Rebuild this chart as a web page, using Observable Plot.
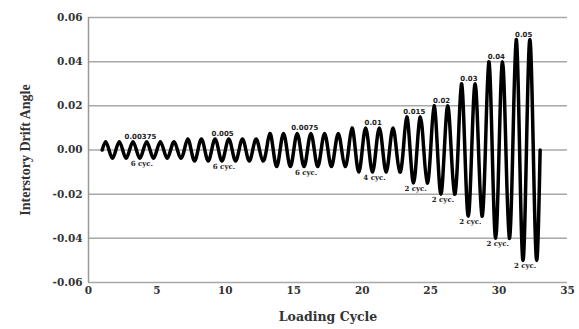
<!DOCTYPE html>
<html><head><meta charset="utf-8">
<script src="https://cdn.jsdelivr.net/npm/d3@7"></script>
<script src="https://cdn.jsdelivr.net/npm/@observablehq/plot@0.6"></script>
<style>
body{margin:0;background:#fff;}
#chart g[aria-label="y-axis label"] text{font-family:"Liberation Serif";font-size:14px;font-weight:bold;}
#chart g[aria-label="x-axis label"] text{font-size:12.5px;}
</style></head><body><div id="chart"></div>
<script>
// Loading protocol
const levels = [0.00375, 0.005, 0.0075, 0.01, 0.015, 0.02, 0.03, 0.04, 0.05];
const cycles = [6, 6, 6, 4, 2, 2, 2, 2, 2];
const levelLabels = ["0.00375", "0.005", "0.0075", "0.01", "0.015", "0.02", "0.03", "0.04", "0.05"];
const cycleLabels = ["6 cyc.", "6 cyc.", "6 cyc.", "4 cyc.", "2 cyc.", "2 cyc.", "2 cyc.", "2 cyc.", "2 cyc."];
const firstCycle = 1;
const yTicks = [-0.06, -0.04, -0.02, 0, 0.02, 0.04, 0.06];
const xTicks = [0, 5, 10, 15, 20, 25, 30, 35];

// Peak / zero / trough vertices of each cycle
const points = [];
const groups = [];
let c = firstCycle;
levels.forEach((a, i) => {
  const start = c;
  for (let k = 0; k < cycles[i]; k++) {
    points.push({x: c, y: 0}, {x: c + 0.25, y: a}, {x: c + 0.5, y: 0}, {x: c + 0.75, y: -a});
    c += 1;
  }
  groups.push({xTop: start + cycles[i] / 2 - 0.2, xBot: start + cycles[i] / 2 - 0.1, amp: a, neg: -a, top: levelLabels[i], bot: cycleLabels[i]});
});
points.push({x: c, y: 0});

const chart = Plot.plot({
  width: 579, height: 329,
  marginLeft: 88, marginRight: 12, marginTop: 17, marginBottom: 47,
  style: {fontFamily: "DejaVu Serif", fontSize: "10.5px", fontWeight: "bold", color: "#333", background: "white"},
  x: {domain: [0, 35]},
  y: {domain: [-0.06, 0.06]},
  marks: [
    Plot.gridY(yTicks, {stroke: "#a8a8a8", strokeOpacity: 1, strokeWidth: 1.5}),
    Plot.ruleX([0], {y1: -0.06, y2: 0.06, stroke: "#999", strokeWidth: 1.5}),
    Plot.axisY(yTicks, {tickSize: 0, tickPadding: 6, tickFormat: d => d.toFixed(2), label: "Interstory Drift Angle", labelAnchor: "center", labelArrow: "none", labelOffset: 68}),
    Plot.axisX(xTicks, {tickSize: 0, tickPadding: 4, label: "Loading Cycle", labelAnchor: "center", labelArrow: "none", labelOffset: 38}),
    Plot.line(points, {x: "x", y: "y", curve: "natural", stroke: "#000", strokeWidth: 3.5}),
    Plot.text(groups, {x: "xTop", y: "amp", text: "top", lineAnchor: "bottom", dy: -3, fontFamily: "DejaVu Sans", fontSize: 7, fill: "#222"}),
    Plot.text(groups, {x: "xBot", y: "neg", text: "bot", lineAnchor: "top", dy: 3, fontSize: 7, fill: "#222"})
  ]
});
document.getElementById("chart").appendChild(chart);
</script></body></html>
